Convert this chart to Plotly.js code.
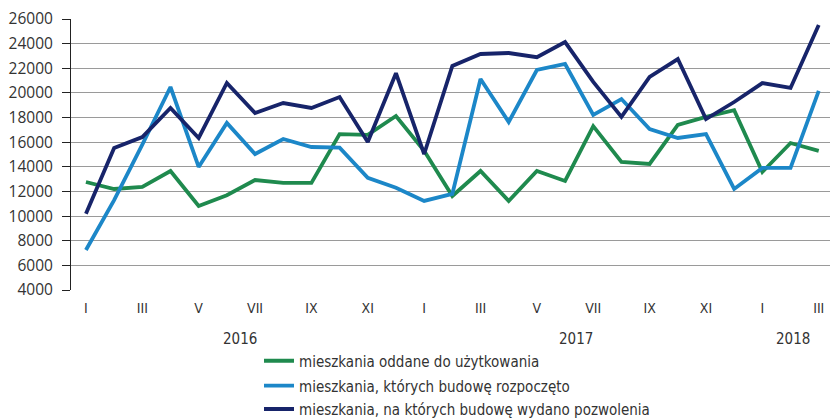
<!DOCTYPE html>
<html><head><meta charset="utf-8">
<script src="https://cdn.plot.ly/plotly-3.0.1.min.js"></script>
<style>html,body{margin:0;padding:0;background:#fff}#chart{width:832px;height:418px}</style>
</head><body><div id="chart"></div>
<script>
const months = ['I','II','III','IV','V','VI','VII','VIII','IX','X','XI','XII',
                'I','II','III','IV','V','VI','VII','VIII','IX','X','XI','XII',
                'I','II','III'];
const oddane = [12770,12200,12370,13660,10820,11700,12930,12700,12700,16650,16600,18130,
                15300,11630,13660,11230,13660,12850,17300,14390,14230,17400,18050,18600,
                13580,15930,15290];
const rozpoczeto = [7250,11300,15800,20480,13990,17560,15040,16260,15610,15560,13100,12300,
                    11230,11800,21130,17640,21860,22350,18210,19500,17070,16340,16660,12200,
                    13910,13910,20160];
const pozwolenia = [10200,15530,16420,18776,16340,20805,18370,19180,18776,19670,16016,21600,
                    15040,22185,23160,23240,22900,24130,20890,18050,21300,22750,17880,19260,
                    20800,20400,25510];
const seriesNames = ['mieszkania oddane do użytkowania',
                     'mieszkania, których budowę rozpoczęto',
                     'mieszkania, na których budowę wydano pozwolenia'];
const years = ['2016','2017','2018'];
const yearPos = [5.45, 17.4, 25.1];

const idx = months.map((m,i)=>i);
const tickIdx = idx.filter(i=>i%2===0);
const tickTxt = tickIdx.map(i=>months[i]);

const colors = ['#1f8a4e','#1c87c8','#17246a'];
const dataSets = [oddane, rozpoczeto, pozwolenia];
const legends = ['legend','legend2','legend3'];
const traces = dataSets.map((d,k)=>({
  type:'scatter', mode:'lines', x: idx, y: d, name: seriesNames[k],
  line:{color:colors[k], width:3.8}, legend: legends[k]
}));

const font = {family:'"DejaVu Sans Condensed", "DejaVu Sans", sans-serif', size:15, color:'#333'};
const legBase = {x:0.2477, xanchor:'left', yanchor:'middle', font:font, bgcolor:'rgba(0,0,0,0)', orientation:'v', borderwidth:0};
const layout = {
  width:832, height:418,
  margin:{l:71, r:2, t:19, b:128, autoexpand:false},
  paper_bgcolor:'#fff', plot_bgcolor:'#fff',
  font:font,
  showlegend:true,
  xaxis:{range:[-0.53, 26.4], tickvals:tickIdx, ticktext:tickTxt, showgrid:false, zeroline:false,
         showline:false, ticks:'', ticklabelstandoff:8, tickfont:{family:font.family, size:14, color:'#333'}, fixedrange:true},
  yaxis:{range:[4000,26000], dtick:2000, tick0:4000, showgrid:true, gridcolor:'#9a9a9a', gridwidth:1,
         zeroline:false, showline:true, linecolor:'#222', linewidth:1, ticks:'outside', ticklen:8,
         tickcolor:'#222', ticklabelstandoff:6, tickfont:{family:'"Open Sans", sans-serif', size:15.5, color:'#333'},
         tickformat:'d', separatethousands:false},
  legend: Object.assign({}, legBase, {y:-0.262}),
  legend2: Object.assign({}, legBase, {y:-0.354}),
  legend3: Object.assign({}, legBase, {y:-0.44}),
  annotations: years.map((t,i)=>({text:t, x:yearPos[i], xref:'x', y:-0.181, yref:'paper',
     showarrow:false, font:font, yanchor:'middle'}))
};
Plotly.newPlot('chart', traces, layout, {displayModeBar:false, staticPlot:true});
</script></body></html>
